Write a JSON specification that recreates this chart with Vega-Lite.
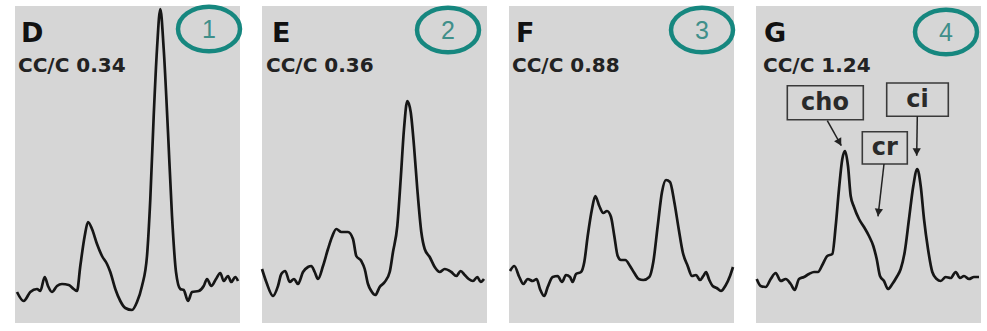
{
  "$schema": "https://vega.github.io/schema/vega-lite/v6.json",
  "background": "white",
  "padding": {"left": 15, "top": -3, "right": 0, "bottom": 0},
  "bounds": "flush",
  "config": {
    "view": {"fill": "#d6d6d6", "stroke": null},
    "axis": {"disable": true},
    "font": "DejaVu Sans"
  },
  "data": {"values": [
    {"p":1,"k":"s","x":2,"y":31},{"p":1,"k":"s","x":8.7,"y":22},{"p":1,"k":"s","x":15.3,"y":31},{"p":1,"k":"s","x":22,"y":34},{"p":1,"k":"s","x":25.3,"y":32},{"p":1,"k":"s","x":29.7,"y":46},{"p":1,"k":"s","x":33,"y":37},{"p":1,"k":"s","x":37,"y":31},{"p":1,"k":"s","x":42,"y":37},{"p":1,"k":"s","x":47,"y":39},{"p":1,"k":"s","x":53.7,"y":38},{"p":1,"k":"s","x":58.7,"y":34},{"p":1,"k":"s","x":62,"y":32},{"p":1,"k":"s","x":65.3,"y":57},{"p":1,"k":"s","x":69.7,"y":87},{"p":1,"k":"s","x":73,"y":101},{"p":1,"k":"s","x":77,"y":94},{"p":1,"k":"s","x":82,"y":79},{"p":1,"k":"s","x":87,"y":67},{"p":1,"k":"s","x":92,"y":59},{"p":1,"k":"s","x":95.3,"y":51},{"p":1,"k":"s","x":100.3,"y":34},{"p":1,"k":"s","x":105.3,"y":22},{"p":1,"k":"s","x":110.3,"y":15},{"p":1,"k":"s","x":117,"y":13},{"p":1,"k":"s","x":122,"y":21},{"p":1,"k":"s","x":127,"y":37},{"p":1,"k":"s","x":132,"y":67},{"p":1,"k":"s","x":135.3,"y":124},{"p":1,"k":"s","x":138.7,"y":207},{"p":1,"k":"s","x":142,"y":274},{"p":1,"k":"s","x":145.3,"y":314},{"p":1,"k":"s","x":148.7,"y":274},{"p":1,"k":"s","x":153,"y":191},{"p":1,"k":"s","x":157,"y":107},{"p":1,"k":"s","x":161,"y":51},{"p":1,"k":"s","x":165.3,"y":34},{"p":1,"k":"s","x":168.7,"y":33},{"p":1,"k":"s","x":173,"y":22},{"p":1,"k":"s","x":177,"y":31},{"p":1,"k":"s","x":183.7,"y":32},{"p":1,"k":"s","x":188.7,"y":37},{"p":1,"k":"s","x":192,"y":44},{"p":1,"k":"s","x":196.3,"y":37},{"p":1,"k":"s","x":201,"y":44},{"p":1,"k":"s","x":205.3,"y":50},{"p":1,"k":"s","x":208.7,"y":42},{"p":1,"k":"s","x":213,"y":47},{"p":1,"k":"s","x":216.3,"y":41},{"p":1,"k":"s","x":220.3,"y":46},{"p":1,"k":"s","x":223,"y":42},
    {"p":2,"k":"s","x":0,"y":54},{"p":2,"k":"s","x":4.3,"y":41},{"p":2,"k":"s","x":11,"y":27},{"p":2,"k":"s","x":16,"y":37},{"p":2,"k":"s","x":19.3,"y":49},{"p":2,"k":"s","x":23.3,"y":52},{"p":2,"k":"s","x":27.7,"y":41},{"p":2,"k":"s","x":32,"y":44},{"p":2,"k":"s","x":36,"y":39},{"p":2,"k":"s","x":41,"y":51},{"p":2,"k":"s","x":46,"y":56},{"p":2,"k":"s","x":49.3,"y":57},{"p":2,"k":"s","x":52.7,"y":51},{"p":2,"k":"s","x":56,"y":44},{"p":2,"k":"s","x":61,"y":57},{"p":2,"k":"s","x":66,"y":74},{"p":2,"k":"s","x":70,"y":86},{"p":2,"k":"s","x":74.3,"y":94},{"p":2,"k":"s","x":79.3,"y":91},{"p":2,"k":"s","x":86,"y":91},{"p":2,"k":"s","x":91,"y":84},{"p":2,"k":"s","x":94.3,"y":67},{"p":2,"k":"s","x":99.3,"y":62},{"p":2,"k":"s","x":102.7,"y":54},{"p":2,"k":"s","x":106,"y":39},{"p":2,"k":"s","x":109.3,"y":32},{"p":2,"k":"s","x":113.3,"y":28},{"p":2,"k":"s","x":117.7,"y":36},{"p":2,"k":"s","x":122.7,"y":41},{"p":2,"k":"s","x":127.7,"y":51},{"p":2,"k":"s","x":131,"y":71},{"p":2,"k":"s","x":135.3,"y":97},{"p":2,"k":"s","x":138.7,"y":144},{"p":2,"k":"s","x":142,"y":194},{"p":2,"k":"s","x":145.3,"y":222},{"p":2,"k":"s","x":148.7,"y":211},{"p":2,"k":"s","x":152,"y":177},{"p":2,"k":"s","x":155.3,"y":134},{"p":2,"k":"s","x":159.3,"y":91},{"p":2,"k":"s","x":162.7,"y":74},{"p":2,"k":"s","x":167.7,"y":66},{"p":2,"k":"s","x":172.7,"y":56},{"p":2,"k":"s","x":177.7,"y":51},{"p":2,"k":"s","x":182.7,"y":54},{"p":2,"k":"s","x":189.3,"y":51},{"p":2,"k":"s","x":194.3,"y":47},{"p":2,"k":"s","x":198.7,"y":52},{"p":2,"k":"s","x":202.7,"y":48},{"p":2,"k":"s","x":206.7,"y":44},{"p":2,"k":"s","x":211,"y":42},{"p":2,"k":"s","x":215.3,"y":46},{"p":2,"k":"s","x":218.7,"y":41},{"p":2,"k":"s","x":222,"y":44},
    {"p":3,"k":"s","x":1,"y":52},{"p":3,"k":"s","x":5.3,"y":57},{"p":3,"k":"s","x":10.3,"y":46},{"p":3,"k":"s","x":14.3,"y":39},{"p":3,"k":"s","x":18.7,"y":44},{"p":3,"k":"s","x":23.7,"y":42},{"p":3,"k":"s","x":27.7,"y":44},{"p":3,"k":"s","x":31,"y":34},{"p":3,"k":"s","x":35.3,"y":27},{"p":3,"k":"s","x":38.7,"y":36},{"p":3,"k":"s","x":43.7,"y":46},{"p":3,"k":"s","x":48.7,"y":47},{"p":3,"k":"s","x":53,"y":41},{"p":3,"k":"s","x":57,"y":48},{"p":3,"k":"s","x":61,"y":46},{"p":3,"k":"s","x":63.7,"y":41},{"p":3,"k":"s","x":67,"y":49},{"p":3,"k":"s","x":72,"y":51},{"p":3,"k":"s","x":75.3,"y":61},{"p":3,"k":"s","x":78.7,"y":87},{"p":3,"k":"s","x":83,"y":114},{"p":3,"k":"s","x":86.3,"y":127},{"p":3,"k":"s","x":90.3,"y":117},{"p":3,"k":"s","x":94.3,"y":110},{"p":3,"k":"s","x":98,"y":112},{"p":3,"k":"s","x":102,"y":106},{"p":3,"k":"s","x":105.3,"y":87},{"p":3,"k":"s","x":108.7,"y":67},{"p":3,"k":"s","x":112,"y":63},{"p":3,"k":"s","x":116.3,"y":63},{"p":3,"k":"s","x":121,"y":57},{"p":3,"k":"s","x":125.3,"y":50},{"p":3,"k":"s","x":129.7,"y":44},{"p":3,"k":"s","x":134.3,"y":43},{"p":3,"k":"s","x":140.3,"y":46},{"p":3,"k":"s","x":144.3,"y":61},{"p":3,"k":"s","x":148.7,"y":97},{"p":3,"k":"s","x":153,"y":131},{"p":3,"k":"s","x":157,"y":143},{"p":3,"k":"s","x":161,"y":141},{"p":3,"k":"s","x":165.3,"y":121},{"p":3,"k":"s","x":169.7,"y":94},{"p":3,"k":"s","x":173.7,"y":71},{"p":3,"k":"s","x":178.7,"y":57},{"p":3,"k":"s","x":183,"y":47},{"p":3,"k":"s","x":187,"y":48},{"p":3,"k":"s","x":191,"y":43},{"p":3,"k":"s","x":194.3,"y":47},{"p":3,"k":"s","x":197,"y":51},{"p":3,"k":"s","x":200.3,"y":43},{"p":3,"k":"s","x":203.7,"y":37},{"p":3,"k":"s","x":207.7,"y":35},{"p":3,"k":"s","x":212,"y":32},{"p":3,"k":"s","x":216.3,"y":37},{"p":3,"k":"s","x":221,"y":47},{"p":3,"k":"s","x":224,"y":56},
    {"p":4,"k":"s","x":0.7,"y":44},{"p":4,"k":"s","x":4.7,"y":37},{"p":4,"k":"s","x":9.7,"y":36},{"p":4,"k":"s","x":14.7,"y":44},{"p":4,"k":"s","x":19.7,"y":50},{"p":4,"k":"s","x":24.7,"y":42},{"p":4,"k":"s","x":29.7,"y":44},{"p":4,"k":"s","x":34.7,"y":39},{"p":4,"k":"s","x":38.7,"y":33},{"p":4,"k":"s","x":43,"y":44},{"p":4,"k":"s","x":48,"y":46},{"p":4,"k":"s","x":53,"y":49},{"p":4,"k":"s","x":58,"y":51},{"p":4,"k":"s","x":62,"y":51},{"p":4,"k":"s","x":66.3,"y":58},{"p":4,"k":"s","x":71.3,"y":67},{"p":4,"k":"s","x":76.3,"y":69},{"p":4,"k":"s","x":79.7,"y":97},{"p":4,"k":"s","x":83,"y":134},{"p":4,"k":"s","x":86.3,"y":164},{"p":4,"k":"s","x":89,"y":172},{"p":4,"k":"s","x":92,"y":157},{"p":4,"k":"s","x":94.7,"y":127},{"p":4,"k":"s","x":98,"y":116},{"p":4,"k":"s","x":103,"y":104},{"p":4,"k":"s","x":108,"y":96},{"p":4,"k":"s","x":113,"y":87},{"p":4,"k":"s","x":117.3,"y":77},{"p":4,"k":"s","x":120.7,"y":64},{"p":4,"k":"s","x":124,"y":47},{"p":4,"k":"s","x":128,"y":42},{"p":4,"k":"s","x":132,"y":34},{"p":4,"k":"s","x":136.3,"y":39},{"p":4,"k":"s","x":140.7,"y":46},{"p":4,"k":"s","x":144.7,"y":54},{"p":4,"k":"s","x":148.7,"y":71},{"p":4,"k":"s","x":153,"y":104},{"p":4,"k":"s","x":157.3,"y":137},{"p":4,"k":"s","x":161.3,"y":154},{"p":4,"k":"s","x":164.7,"y":137},{"p":4,"k":"s","x":168,"y":104},{"p":4,"k":"s","x":172,"y":74},{"p":4,"k":"s","x":176.3,"y":51},{"p":4,"k":"s","x":180.7,"y":44},{"p":4,"k":"s","x":184.7,"y":42},{"p":4,"k":"s","x":189.7,"y":46},{"p":4,"k":"s","x":194.7,"y":45},{"p":4,"k":"s","x":199.7,"y":51},{"p":4,"k":"s","x":204,"y":45},{"p":4,"k":"s","x":208,"y":47},{"p":4,"k":"s","x":213,"y":44},{"p":4,"k":"s","x":218,"y":46},{"p":4,"k":"s","x":223,"y":46},
    {"p":1,"k":"head","x":6,"y":281,"label":"D"},
    {"p":2,"k":"head","x":10,"y":281,"label":"E"},
    {"p":3,"k":"head","x":7,"y":281,"label":"F"},
    {"p":4,"k":"head","x":8,"y":281,"label":"G"},
    {"p":1,"k":"cc","x":3,"y":251,"label":"CC/C 0.34"},
    {"p":2,"k":"cc","x":4,"y":251,"label":"CC/C 0.36"},
    {"p":3,"k":"cc","x":3,"y":251,"label":"CC/C 0.88"},
    {"p":4,"k":"cc","x":7,"y":251,"label":"CC/C 1.24"},
    {"p":1,"k":"num","x":194,"y":294,"label":"1"},
    {"p":2,"k":"num","x":186,"y":293,"label":"2"},
    {"p":3,"k":"num","x":193,"y":293,"label":"3"},
    {"p":4,"k":"num","x":190,"y":291,"label":"4"},
    {"p":4,"k":"box","x":31.3,"x2":107.3,"y":237.3,"y2":203.3,"tx":69,"ty":220,"label":"cho"},
    {"p":4,"k":"box","x":130.7,"x2":192.3,"y":240,"y2":206.7,"tx":161.5,"ty":223,"label":"ci"},
    {"p":4,"k":"box","x":106.3,"x2":151.3,"y":191.3,"y2":159,"tx":128.8,"ty":175,"label":"cr"},
    {"p":4,"k":"arrow","x":71.3,"y":202.3,"x2":85.3,"y2":177.3,"angle":331},
    {"p":4,"k":"arrow","x":161.3,"y":206.7,"x2":160.7,"y2":167.3,"angle":0},
    {"p":4,"k":"arrow","x":128,"y":159,"x2":122,"y2":106.7,"angle":7}
  ]},
  "facet": {"column": {"field": "p", "type": "ordinal", "header": null}},
  "spacing": 22,
  "spec": {
    "width": 225,
    "height": 317,
    "layer": [
      {
        "transform": [{"filter": "datum.k === 's'"}],
        "mark": {"type": "line", "color": "#161616", "strokeWidth": 2.7, "strokeJoin": "round", "interpolate": "monotone"},
        "encoding": {
          "x": {"field": "x", "type": "quantitative", "scale": {"domain": [0, 225], "nice": false, "zero": false}, "axis": null},
          "y": {"field": "y", "type": "quantitative", "scale": {"domain": [0, 317], "nice": false, "zero": false}, "axis": null}
        }
      },
      {
        "transform": [{"filter": "datum.k === 'box'"}],
        "mark": {"type": "rect", "fill": "#d6d6d6", "stroke": "#3a3a3a", "strokeWidth": 1.6},
        "encoding": {
          "x": {"field": "x", "type": "quantitative"},
          "x2": {"field": "x2"},
          "y": {"field": "y", "type": "quantitative"},
          "y2": {"field": "y2"}
        }
      },
      {
        "transform": [{"filter": "datum.k === 'box'"}],
        "mark": {"type": "text", "font": "DejaVu Sans", "fontWeight": "bold", "fontSize": 24, "color": "#2a2a2a", "align": "center", "baseline": "middle"},
        "encoding": {
          "x": {"field": "tx", "type": "quantitative"},
          "y": {"field": "ty", "type": "quantitative"},
          "text": {"field": "label"}
        }
      },
      {
        "transform": [{"filter": "datum.k === 'arrow'"}],
        "mark": {"type": "rule", "color": "#222", "strokeWidth": 1.5},
        "encoding": {
          "x": {"field": "x", "type": "quantitative"},
          "y": {"field": "y", "type": "quantitative"},
          "x2": {"field": "x2"},
          "y2": {"field": "y2"}
        }
      },
      {
        "transform": [{"filter": "datum.k === 'arrow'"}],
        "mark": {"type": "point", "shape": "M-0.55,-1L0.55,-1L0,0Z", "filled": true, "color": "#222", "size": 225, "opacity": 1},
        "encoding": {
          "x": {"field": "x2", "type": "quantitative"},
          "y": {"field": "y2", "type": "quantitative"},
          "angle": {"field": "angle", "type": "quantitative", "scale": null}
        }
      },
      {
        "transform": [{"filter": "datum.k === 'num'"}],
        "mark": {"type": "point", "shape": "M-1,0A1,0.72,0,1,0,1,0A1,0.72,0,1,0,-1,0Z", "filled": false, "stroke": "#16877f", "strokeWidth": 4.5, "size": 3844, "opacity": 1},
        "encoding": {
          "x": {"field": "x", "type": "quantitative"},
          "y": {"field": "y", "type": "quantitative"}
        }
      },
      {
        "transform": [{"filter": "datum.k === 'num'"}],
        "mark": {"type": "text", "font": "Liberation Sans", "fontSize": 25, "color": "#3f8f8a", "align": "center", "baseline": "middle", "dy": 1},
        "encoding": {
          "x": {"field": "x", "type": "quantitative"},
          "y": {"field": "y", "type": "quantitative"},
          "text": {"field": "label"}
        }
      },
      {
        "transform": [{"filter": "datum.k === 'head'"}],
        "mark": {"type": "text", "font": "DejaVu Sans", "fontWeight": "bold", "fontSize": 27, "color": "#111", "align": "left", "baseline": "alphabetic"},
        "encoding": {
          "x": {"field": "x", "type": "quantitative"},
          "y": {"field": "y", "type": "quantitative"},
          "text": {"field": "label"}
        }
      },
      {
        "transform": [{"filter": "datum.k === 'cc'"}],
        "mark": {"type": "text", "font": "DejaVu Sans", "fontWeight": "bold", "fontSize": 20, "color": "#222", "align": "left", "baseline": "alphabetic"},
        "encoding": {
          "x": {"field": "x", "type": "quantitative"},
          "y": {"field": "y", "type": "quantitative"},
          "text": {"field": "label"}
        }
      }
    ]
  }
}
